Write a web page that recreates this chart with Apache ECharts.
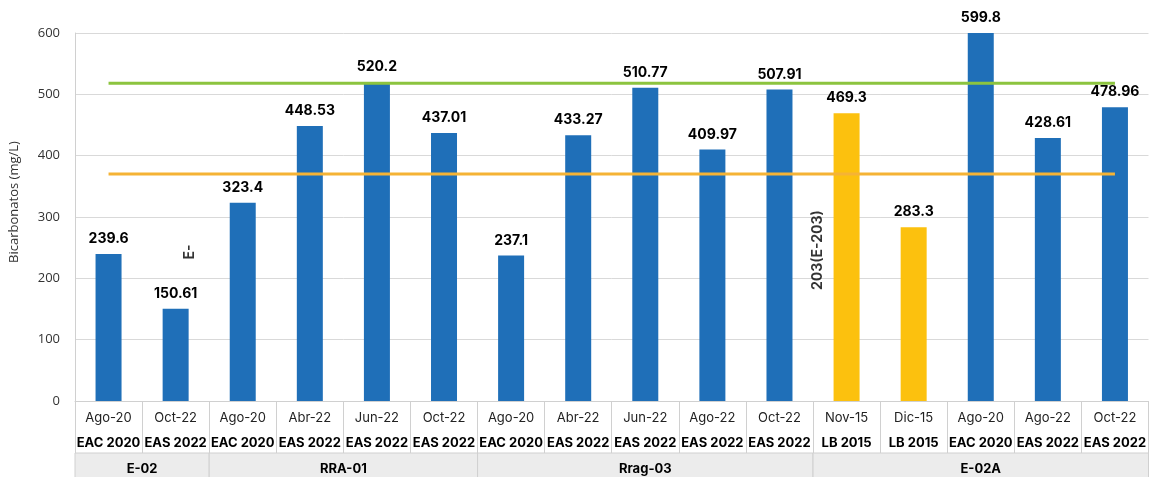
<!DOCTYPE html>
<html>
<head>
<meta charset="utf-8">
<script src="https://cdn.jsdelivr.net/npm/echarts@6/dist/echarts.min.js"></script>
<style>html,body{margin:0;padding:0;background:#fff;}#c{width:1149px;height:477px;}</style>
</head>
<body>
<div id="c"></div>
<script>
// ---- data ----
var dates = ['Ago-20','Oct-22','Ago-20','Abr-22','Jun-22','Oct-22','Ago-20','Abr-22','Jun-22','Ago-22','Oct-22','Nov-15','Dic-15','Ago-20','Ago-22','Oct-22'];
var surveys = ['EAC 2020','EAS 2022','EAC 2020','EAS 2022','EAS 2022','EAS 2022','EAC 2020','EAS 2022','EAS 2022','EAS 2022','EAS 2022','LB 2015','LB 2015','EAC 2020','EAS 2022','EAS 2022'];
var values = [239.6,150.61,323.4,448.53,520.2,437.01,237.1,433.27,510.77,409.97,507.91,469.3,283.3,599.8,428.61,478.96];
var limitGreen = [518,518,518,518,518,518,518,518,518,518,518,518,518,518,518,518];
var limitOrange = [370,370,370,370,370,370,370,370,370,370,370,370,370,370,370,370];
var groupNames = ['E-02','RRA-01','Rrag-03','E-02A'];
var groupStart = [0,2,6,11];
var groupEnd = [1,5,10,15];
var annotText = ['E-','203(E-203)'];
var annotCat = [1,11];
var annotVal = [243,246];
var yTicks = [0,100,200,300,400,500,600];

// label offsets in the rotated frame ([along text, across text])
var annotOffsets = [[0,14],[0,-29]];
var LINE = '#d0d0d0';
var FONT = 'Inter';

var chart = echarts.init(document.getElementById('c'));
chart.setOption({
  animation: false,
  grid: {left: 72, right: 0, top: 33, bottom: 76, containLabel: false},
  xAxis: {
    type: 'category',
    data: dates,
    boundaryGap: true,
    axisLine: {show: true, lineStyle: {color: LINE, width: 1}},
    axisTick: {show: true, interval: 0, length: 52, lineStyle: {color: LINE}},
    axisLabel: {
      interval: 0, margin: 5,
      formatter: function (v, i) { return '{d|' + v + '}\n{s|' + surveys[i] + '}'; },
      rich: {
        d: {fontFamily: FONT, fontSize: 13, color: '#222', lineHeight: 25},
        s: {fontFamily: FONT, fontSize: 13, fontWeight: 'bold', color: '#000', lineHeight: 25}
      }
    }
  },
  yAxis: {
    type: 'value', min: yTicks[0], max: yTicks[yTicks.length - 1], interval: yTicks[1] - yTicks[0],
    name: 'Bicarbonatos (mg/L)', nameLocation: 'middle', nameGap: 54,
    nameTextStyle: {fontFamily: 'Open Sans', fontSize: 13, color: '#333', padding: [0, 0, 0, 30]},
    axisLine: {show: true, lineStyle: {color: LINE}},
    axisTick: {show: false},
    axisLabel: {fontFamily: 'Open Sans', fontSize: 13, color: '#333', margin: 15},
    splitLine: {lineStyle: {color: '#d9d9d9'}}
  },
  series: [
    {
      type: 'bar', data: values, barWidth: 26,
      itemStyle: {color: function (p) { return surveys[p.dataIndex].indexOf('LB') === 0 ? '#fcc10e' : '#1f6fb8'; }},
      label: {show: true, position: 'top', distance: 8, fontFamily: FONT, fontSize: 14, fontWeight: 'bold', color: '#000'},
      z: 2
    },
    {
      type: 'line', data: limitGreen, symbol: 'none', lineStyle: {color: '#8cc43f', width: 3}, z: 3
    },
    {
      type: 'line', data: limitOrange, symbol: 'none', lineStyle: {color: '#f5b335', width: 3}, z: 3
    },
    {
      type: 'scatter', symbolSize: 0, z: 4,
      data: annotText.map(function (t, i) {
        return {value: [annotCat[i], annotVal[i]], label: {show: true, formatter: t, position: 'inside', rotate: 90, offset: annotOffsets[i], fontFamily: FONT, fontSize: 14, fontWeight: 'bold', color: '#000'}};
      })
    },
    {
      type: 'custom', clip: false, z: 1, silent: true,
      data: groupNames.map(function (n, i) { return [groupStart[i], groupEnd[i], 0, i]; }),
      encode: {x: 0, y: 2},
      renderItem: function (params, api) {
        var bw = api.size([1, 0])[0];
        var p0 = api.coord([api.value(0), 0]);
        var p1 = api.coord([api.value(1), 0]);
        var x0 = p0[0] - bw / 2, x1 = p1[0] + bw / 2;
        var y0 = p0[1] + 52;
        var h = 26;
        return {
          type: 'group',
          children: [
            {type: 'rect', shape: {x: x0, y: y0, width: x1 - x0, height: h}, style: {fill: '#ececec', stroke: LINE, lineWidth: 1}},
            {type: 'text', style: {text: groupNames[api.value(3)], x: (x0 + x1) / 2, y: y0 + 16, align: 'center', verticalAlign: 'middle', fontFamily: FONT, fontSize: 13, fontWeight: 'bold', fill: '#000'}}
          ]
        };
      }
    }
  ]
});
</script>
</body>
</html>
